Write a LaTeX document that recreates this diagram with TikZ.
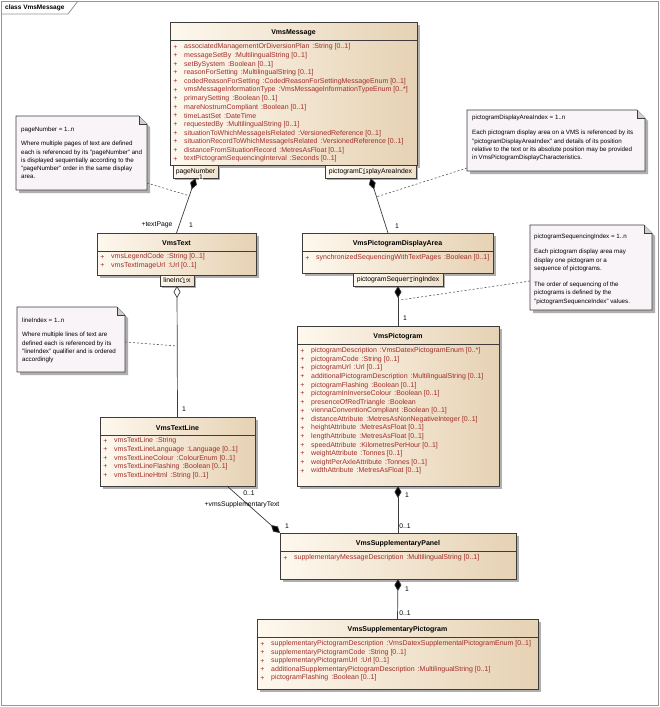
\documentclass[tikz,border=0pt]{standalone}
\usepackage{fontspec}
\setmainfont{Liberation Sans}
\usetikzlibrary{arrows.meta,calc}
\definecolor{attrc}{RGB}{160,45,40}
\definecolor{clsL}{RGB}{254,248,238}
\definecolor{clsR}{RGB}{230,210,180}
\definecolor{notefill}{RGB}{248,244,248}
\definecolor{edgec}{RGB}{60,60,60}
\definecolor{shadowc}{RGB}{175,175,175}
\definecolor{framec}{RGB}{150,150,150}
\newcommand\attrgap{\hspace{3pt}}
\tikzset{
  clsbox/.style={draw=edgec, line width=0.8pt, left color=clsL, right color=clsR, anchor=north west, inner sep=0pt, outer sep=0pt},
  qualbox/.style={draw=edgec, line width=0.8pt, left color=clsL, right color=clsR!60!clsL, anchor=north west, inner sep=0pt, outer sep=0pt, font=\fontsize{6.8}{8}\selectfont},
  clstitle/.style={font=\bfseries\fontsize{7}{8}\selectfont, inner sep=0pt},
  attrtext/.style={font=\fontsize{7}{8}\selectfont, text=attrc, anchor=west, inner sep=0pt},
  plustext/.style={font=\fontsize{7}{8}\selectfont, text=attrc, inner sep=0pt},
  notetext/.style={font=\fontsize{6.2}{8.2}\selectfont, anchor=north west, inner sep=0pt, align=left},
  mult/.style={font=\fontsize{6.8}{8}\selectfont, inner sep=0.4pt},
  multbg/.style={mult, fill=clsL},
  conn/.style={draw=edgec, line width=0.7pt},
  notelink/.style={draw=edgec!85, line width=0.6pt, dash pattern=on 2pt off 2pt},
  comp/.style={{Diamond[length=12pt,width=7pt,fill=black]}-},
  aggr/.style={{Diamond[length=12pt,width=7pt,fill=white]}-},
}
\newcommand\umlclass[6]{%
  \fill[shadowc] (#2+3,#3+3) rectangle (#4+3,#5+3);
  \node[clsbox, minimum width=#4pt-#2pt, minimum height=#5pt-#3pt] (#1) at (#2,#3) {};
  \node[clstitle] (#1-title) at ({(#2+#4)/2},#3+10.5) {#6};
  \draw[edgec, line width=0.7pt] (#2,#3+18.5) -- (#4,#3+18.5);
}
\newcommand\umlattrs[5]{%
  \foreach \t [count=\i from 0] in {#5} {
    \node[plustext] (#1-p\i) at (#2+5.5, #3+25+\i*#4) {+};
    \node[attrtext] (#1-a\i) at (#2+14, #3+25+\i*#4) {\t};
  }
}
\newcommand\umlqual[6]{%
  \fill[shadowc] (#2+2,#3+2) rectangle (#4+2,#5+2);
  \node[qualbox, minimum width=#4pt-#2pt, minimum height=#5pt-#3pt] (#1) at (#2,#3) {#6};
}
\newcommand\umlnote[5]{%
  \fill[shadowc] (#2+3,#3+3) -- (#4+3-8,#3+3) -- (#4+3,#3+3+8) -- (#4+3,#5+3) -- (#2+3,#5+3) -- cycle;
  \node[minimum width=#4pt-#2pt, minimum height=#5pt-#3pt, anchor=north west, inner sep=0pt, outer sep=0pt] (#1) at (#2,#3) {};
  \filldraw[fill=notefill, draw=edgec, line width=0.7pt] (#2,#3) -- (#4-8,#3) -- (#4,#3+8) -- (#4,#5) -- (#2,#5) -- cycle;
  \filldraw[fill=shadowc!60, draw=edgec, line width=0.6pt] (#4-8,#3) -- (#4-8,#3+8) -- (#4,#3+8);
}
\begin{document}
\begin{tikzpicture}[x=1pt,y=-1pt]
\useasboundingbox (0,0) rectangle (660,707);
\fill[white] (0,0) rectangle (660,707);
% frame
\draw[framec, line width=0.8pt] (1,1) rectangle (658,705);
\draw[framec, line width=0.8pt] (1,14) -- (68,14) -- (78,1);
\node[font=\bfseries\fontsize{6.5}{8}\selectfont, anchor=west, inner sep=0pt] (frametitle) at (5,7.5) {class VmsMessage};

% ---------------- notes
\umlnote{n1}{16}{116}{147}{190}
\node[notetext] (n1t) at (21,126.5) {pageNumber = 1..n\\[6.6pt]
Where multiple pages of text are defined\\
each is referenced by its "pageNumber" and\\
is displayed sequentially according to the\\
"pageNumber" order in the same display\\
area.};

\umlnote{n2}{467}{110}{645}{171}
\node[notetext] (n2t) at (472,114.5) {pictogramDisplayAreaIndex = 1..n\\[7.6pt]
Each pictogram display area on a VMS is referenced by its\\
"pictogramDisplayAreaIndex" and details of its position\\
relative to the text or its absolute position may be provided\\
in VmsPictogramDisplayCharacteristics.};

\umlnote{n3}{530}{225}{652}{310}
\node[notetext] (n3t) at (534,233.5) {pictogramSequencingIndex = 1..n\\[7.6pt]
Each pictogram display area may\\
display one pictogram or a\\
sequence of pictograms.\\[8.2pt]
The order of sequencing of the\\
pictograms is defined by the\\
"pictogramSequenceIndex" values.};

\umlnote{n4}{17}{307}{125}{372}
\node[notetext] (n4t) at (22,317.5) {lineIndex = 1..n\\[6.6pt]
Where multiple lines of text are\\
defined each is referenced by its\\
"lineIndex" qualifier and is ordered\\
accordingly};

% ---------------- classes
\umlclass{msg}{170}{22}{417}{165}{VmsMessage}
\umlattrs{msg}{170}{22}{8.62}{%
  {associatedManagementOrDiversionPlan\attrgap:String [0..1]},
  {messageSetBy\attrgap:MultilingualString [0..1]},
  {setBySystem\attrgap:Boolean [0..1]},
  {reasonForSetting\attrgap:MultilingualString [0..1]},
  {codedReasonForSetting\attrgap:CodedReasonForSettingMessageEnum [0..1]},
  {vmsMessageInformationType\attrgap:VmsMessageInformationTypeEnum [0..*]},
  {primarySetting\attrgap:Boolean [0..1]},
  {mareNostrumCompliant\attrgap:Boolean [0..1]},
  {timeLastSet\attrgap:DateTime},
  {requestedBy\attrgap:MultilingualString [0..1]},
  {situationToWhichMessageIsRelated\attrgap:VersionedReference [0..1]},
  {situationRecordToWhichMessageIsRelated\attrgap:VersionedReference [0..1]},
  {distanceFromSituationRecord\attrgap:MetresAsFloat [0..1]},
  {textPictogramSequencingInterval\attrgap:Seconds [0..1]}}

\umlclass{txt}{97}{233}{256}{275}{VmsText}
\umlattrs{txt}{97}{232}{8.6}{%
  {vmsLegendCode\attrgap:String [0..1]},
  {vmsTextImageUrl\attrgap:Url [0..1]}}

\umlclass{pda}{302}{233}{493}{273}{VmsPictogramDisplayArea}
\umlattrs{pda}{302}{233}{8.6}{%
  {synchronizedSequencingWithTextPages\attrgap:Boolean [0..1]}}

\umlclass{pic}{297}{326}{499}{486}{VmsPictogram}
\umlattrs{pic}{297}{326}{8.57}{%
  {pictogramDescription\attrgap:VmsDatexPictogramEnum [0..*]},
  {pictogramCode\attrgap:String [0..1]},
  {pictogramUrl\attrgap:Url [0..1]},
  {additionalPictogramDescription\attrgap:MultilingualString [0..1]},
  {pictogramFlashing\attrgap:Boolean [0..1]},
  {pictogramInInverseColour\attrgap:Boolean [0..1]},
  {presenceOfRedTriangle\attrgap:Boolean},
  {viennaConventionCompliant\attrgap:Boolean [0..1]},
  {distanceAttribute\attrgap:MetresAsNonNegativeInteger [0..1]},
  {heightAttribute\attrgap:MetresAsFloat [0..1]},
  {lengthAttribute\attrgap:MetresAsFloat [0..1]},
  {speedAttribute\attrgap:KilometresPerHour [0..1]},
  {weightAttribute\attrgap:Tonnes [0..1]},
  {weightPerAxleAttribute\attrgap:Tonnes [0..1]},
  {widthAttribute\attrgap:MetresAsFloat [0..1]}}

\umlclass{tl}{100}{417}{255}{486}{VmsTextLine}
\umlattrs{tl}{100}{416}{8.6}{%
  {vmsTextLine\attrgap:String},
  {vmsTextLineLanguage\attrgap:Language [0..1]},
  {vmsTextLineColour\attrgap:ColourEnum [0..1]},
  {vmsTextLineFlashing\attrgap:Boolean [0..1]},
  {vmsTextLineHtml\attrgap:String [0..1]}}

\umlclass{sp}{280}{533}{516}{579}{VmsSupplementaryPanel}
\umlattrs{sp}{280}{533}{8.6}{%
  {supplementaryMessageDescription\attrgap:MultilingualString [0..1]}}

\umlclass{spp}{257}{619}{538}{689}{VmsSupplementaryPictogram}
\umlattrs{spp}{257}{619}{8.5}{%
  {supplementaryPictogramDescription\attrgap:VmsDatexSupplementalPictogramEnum [0..1]},
  {supplementaryPictogramCode\attrgap:String [0..1]},
  {supplementaryPictogramUrl\attrgap:Url [0..1]},
  {additionalSupplementaryPictogramDescription\attrgap:MultilingualString [0..1]},
  {pictogramFlashing\attrgap:Boolean [0..1]}}

% ---------------- qualifiers
\umlqual{pn}{173}{165.5}{218}{178}{pageNumber}
\umlqual{pdai}{325}{165.5}{416}{178}{pictogramDisplayAreaIndex}
\umlqual{li}{160}{275}{194}{286}{lineIndex}
\umlqual{psi}{353}{273}{443}{286}{pictogramSequencingIndex}

% ---------------- connectors
\draw[conn,comp] (pn.south) -- (txt.north);
\draw[conn,comp] (pdai.south) -- ([xshift=-9.5pt]pda.north);
\draw[conn,comp] (psi.south) -- (pic.north);
\draw[conn,aggr] (li.south) -- (tl.north);
\draw[conn,comp] (pic.south) -- (sp.north);
\draw[conn,comp] (sp.south) -- (spp.north);
\coordinate (tlout) at (227,486);
\draw[conn,comp] (sp.north west) -- (tlout);

% multiplicities / roles
\node[multbg] (m1) at (201,177) {1};
\node[mult, anchor=east] (r1) at (173,225) {+textPage};
\node[mult] (m2) at (191,225) {1};
\node[multbg] (m3) at (364,172) {1};
\node[mult] (m4) at (397,226) {1};
\node[multbg] (m5) at (184,281) {1};
\node[mult] (m6) at (184,409) {1};
\node[multbg] (m7) at (411,280.5) {1};
\node[mult] (m8) at (405,318) {1};
\node[mult] (m9) at (407,495) {1};
\node[mult] (m10) at (405,526) {0..1};
\node[mult] (m11) at (249,493) {0..1};
\node[mult] (r2) at (242,505) {+vmsSupplementaryText};
\node[mult] (m12) at (287,526) {1};
\node[mult] (m13) at (407,589) {1};
\node[mult] (m14) at (405,613) {0..1};

% note links
\coordinate (n1a) at (147,183);
\coordinate (n1b) at (190,196);
\draw[notelink] (n1a) -- (n1b);
\coordinate (n2a) at (467,168);
\coordinate (n2b) at (376,197);
\draw[notelink] (n2a) -- (n2b);
\coordinate (n3a) at (530,281);
\coordinate (n3b) at (400,300);
\draw[notelink] (n3a) -- (n3b);
\coordinate (n4a) at (125,342);
\coordinate (n4b) at (177,346);
\draw[notelink] (n4a) -- (n4b);
\end{tikzpicture}
\end{document}
